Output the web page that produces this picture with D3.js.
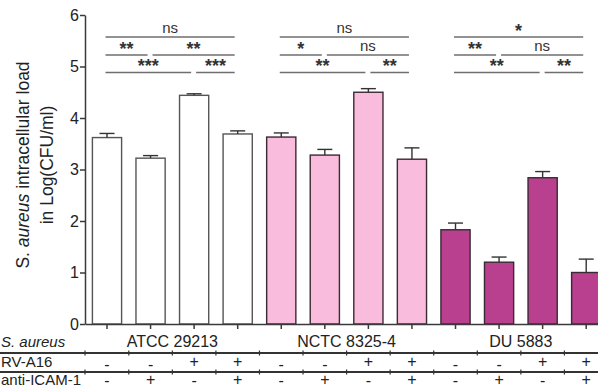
<!DOCTYPE html>
<html><head><meta charset="utf-8">
<script src="https://cdn.jsdelivr.net/npm/d3@7"></script>
<style>
html,body{margin:0;padding:0;background:#fff;overflow:hidden;}
svg{display:block;font-family:"Liberation Sans",Arial,sans-serif;}
</style></head>
<body>
<svg id="c" width="598" height="389"></svg>
<script>
// ---- data ----
const strains = ["ATCC 29213", "NCTC 8325-4", "DU 5883"];
const strainColors = ["#ffffff", "#fabcdc", "#b8408f"];
const means = [3.62, 3.22, 4.44, 3.69, 3.63, 3.28, 4.50, 3.20, 1.83, 1.20, 2.84, 1.00];
const errs  = [0.08, 0.05, 0.03, 0.06, 0.08, 0.11, 0.07, 0.22, 0.13, 0.10, 0.12, 0.26];
const rvA16 = ["-", "-", "+", "+", "-", "-", "+", "+", "-", "-", "+", "+"];
const antiICAM = ["-", "+", "-", "+", "-", "+", "-", "+", "-", "+", "-", "+"];
const yTicks = [0, 1, 2, 3, 4, 5, 6];
// comparisons: [fromBar, toBar, row, label]
const comparisons = [
  [0, 3, 0, "ns"], [0, 1, 1, "**"], [1, 3, 1, "**"], [0, 2, 2, "***"], [2, 3, 2, "***"],
  [4, 7, 0, "ns"], [4, 5, 1, "*"], [5, 7, 1, "ns"], [4, 6, 2, "**"], [6, 7, 2, "**"],
  [8, 11, 0, "*"], [8, 9, 1, "**"], [9, 11, 1, "ns"], [8, 10, 2, "**"], [10, 11, 2, "**"]
];
const rowLabels = ["S. aureus", "RV-A16", "anti-ICAM-1"];

// ---- layout ----
const svg = d3.select("#c");
const x0 = 85, x1 = 608.2, yTop = 15, yBot = 324;
const x = d3.scaleBand().domain(d3.range(means.length)).range([x0, x1])
  .paddingInner(0.33).paddingOuter(0.17);
const y = d3.scaleLinear().domain([0, 6]).range([yBot, yTop]);
const cx = i => x(i) + x.bandwidth() / 2;
const axisColor = "#3a3a3a";

// bars
const g = svg.append("g");
g.selectAll("rect.bar").data(means).join("rect")
  .attr("class", "bar")
  .attr("x", (d, i) => x(i))
  .attr("y", d => y(d))
  .attr("width", x.bandwidth())
  .attr("height", d => y(0) - y(d))
  .attr("fill", (d, i) => strainColors[Math.floor(i / 4)])
  .attr("stroke", (d, i) => i < 4 ? "#555" : "#3a2a33")
  .attr("stroke-width", 1.4);

// error bars (upper only)
const eb = g.selectAll("g.err").data(means).join("g").attr("class", "err")
  .attr("stroke", "#333").attr("stroke-width", 1.4);
eb.append("line")
  .attr("x1", (d, i) => cx(i)).attr("x2", (d, i) => cx(i))
  .attr("y1", d => y(d)).attr("y2", (d, i) => y(d + errs[i]));
eb.append("line")
  .attr("x1", (d, i) => cx(i) - 7.5).attr("x2", (d, i) => cx(i) + 7.5)
  .attr("y1", (d, i) => y(d + errs[i])).attr("y2", (d, i) => y(d + errs[i]));

// y axis
const yAxis = svg.append("g").attr("transform", `translate(${x0},0)`)
  .call(d3.axisLeft(y).tickValues(yTicks).tickFormat(d3.format("d"))
    .tickSize(5).tickPadding(1).tickSizeOuter(0));
yAxis.select(".domain").attr("stroke", axisColor).attr("stroke-width", 1.5);
yAxis.selectAll(".tick line").attr("stroke", axisColor).attr("stroke-width", 1.5);
yAxis.selectAll(".tick text").attr("font-size", 16).attr("fill", "#222")
  .attr("font-family", "'Liberation Sans',Arial,sans-serif");

// x axis
const xAxis = svg.append("g").attr("transform", `translate(0,${yBot})`)
  .call(d3.axisBottom(x).tickSize(5).tickSizeOuter(0).tickFormat(""));
xAxis.select(".domain").attr("stroke", axisColor).attr("stroke-width", 1.5);
xAxis.selectAll(".tick line").attr("stroke", axisColor).attr("stroke-width", 1.5);

// y label
const yl = svg.append("text").attr("transform", "translate(29,165) rotate(-90)")
  .attr("text-anchor", "middle").attr("font-size", 17.5).attr("fill", "#222");
yl.append("tspan").text("S. ");
yl.append("tspan").attr("font-style", "italic").text("aureus");
yl.append("tspan").text(" intracellular load");
svg.append("text").attr("transform", "translate(53,165) rotate(-90)")
  .attr("text-anchor", "middle").attr("font-size", 17.5).attr("fill", "#222")
  .text("in Log(CFU/ml)");

// strain labels
svg.selectAll("text.strain").data(strains).join("text").attr("class", "strain")
  .attr("x", (d, k) => (cx(k * 4 + 1) + cx(k * 4 + 2)) / 2)
  .attr("y", 346.5).attr("text-anchor", "middle").attr("font-size", 16).attr("fill", "#222")
  .text(d => d);

// table row labels
svg.append("text").attr("x", 1).attr("y", 346.5)
  .attr("font-size", 15).attr("font-style", "italic").attr("fill", "#222").text(rowLabels[0]);
svg.append("text").attr("x", 1).attr("y", 367)
  .attr("font-size", 15).attr("fill", "#222").text(rowLabels[1]);
svg.append("text").attr("x", 1).attr("y", 385)
  .attr("font-size", 15).attr("fill", "#222").text(rowLabels[2]);

// table separator lines with small ticks
[353, 372].forEach(ly => {
  svg.append("line").attr("x1", 0).attr("x2", 598).attr("y1", ly).attr("y2", ly)
    .attr("stroke", "#333").attr("stroke-width", 1.8);
  const mids = [x0].concat(d3.range(means.length - 1).map(i => (cx(i) + cx(i + 1)) / 2));
  svg.selectAll(null).data(mids).join("line")
    .attr("x1", d => d).attr("x2", d => d).attr("y1", ly - 2.5).attr("y2", ly + 2.5)
    .attr("stroke", "#333").attr("stroke-width", 1.2);
});

// +/- signs
function signRow(vals, base, dashShift) {
  svg.selectAll(null).data(vals).join("text")
    .attr("x", (d, i) => cx(i))
    .attr("y", d => d === "-" ? base + dashShift : base)
    .attr("text-anchor", "middle").attr("font-size", 16).attr("fill", "#222")
    .text(d => d);
}
signRow(rvA16, 367, 2.5);
signRow(antiICAM, 385, 0.5);

// significance brackets
const rowY = [37, 55, 72.5];
comparisons.forEach(([a, b, r, lab]) => {
  const joined = comparisons.some(c => c[2] === r && c[1] === a);
  const xs = cx(a) + (joined ? 2 : -1.5);
  const xe = cx(b) - 3;
  svg.append("line").attr("x1", xs).attr("x2", xe).attr("y1", rowY[r]).attr("y2", rowY[r])
    .attr("stroke", "#6e6e6e").attr("stroke-width", 1.6);
  const isNs = lab === "ns";
  svg.append("text").attr("x", (xs + xe) / 2)
    .attr("y", isNs ? rowY[r] - 4 : rowY[r] - 0.5)
    .attr("text-anchor", "middle")
    .attr("font-size", isNs ? 15 : 18)
    .attr("font-weight", isNs ? "normal" : "bold")
    .attr("fill", "#333").text(lab);
});
</script>
</body></html>
